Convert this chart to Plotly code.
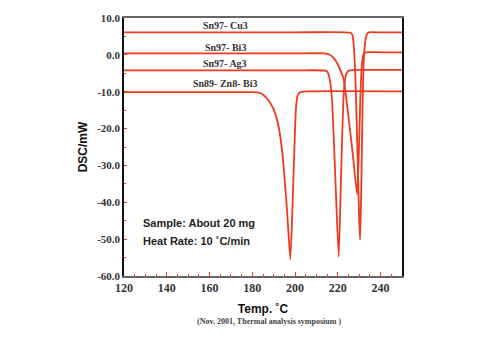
import plotly.graph_objects as go

# ---- data ----
cu3_t = [120, 200, 226.0, 226.8, 227.5, 228.3, 229.2, 230.0, 230.4, 230.9, 231.5, 232.1, 232.8, 233.6, 234.5, 240, 250]
cu3_v = [6.1, 6.1, 6.0, 5.4, 2.0, -8.0, -27.0, -45.0, -50.2, -38.0, -16.0, -2.0, 3.5, 5.6, 6.1, 6.1, 6.1]

bi3_t = [120, 200, 213.5, 216.0, 218.0, 219.8, 221.2, 222.7, 225.0, 227.0, 229.0, 229.8, 230.5, 231.2, 232.0, 233.0, 240, 250]
bi3_v = [0.4, 0.4, 0.4, 0.1, -0.8, -2.4, -4.2, -6.5, -17.0, -27.0, -37.8, -27.0, -12.0, -3.0, 0.2, 0.7, 0.7, 0.7]

ag3_t = [120, 200, 214.3, 215.3, 216.2, 217.3, 218.8, 220.4, 221.5, 222.6, 223.4, 224.2, 225.5, 240, 250]
ag3_v = [-4.2, -4.2, -4.3, -4.8, -6.5, -12.5, -33.0, -54.8, -33.0, -12.0, -6.5, -4.8, -4.2, -4.1, -4.1]

zn_t = [120, 180, 182.5, 185.0, 187.5, 190.0, 192.3, 194.3, 196.3, 197.8, 198.8, 199.7, 200.4, 201.2, 202.5, 205, 250]
zn_v = [-10.1, -10.1, -10.2, -10.8, -12.3, -14.8, -19.5, -28.0, -42.7, -55.5, -41.0, -25.0, -14.5, -11.0, -10.1, -9.9, -9.9]

series = [("Sn97- Cu3", cu3_t, cu3_v), ("Sn97- Bi3", bi3_t, bi3_v),
          ("Sn97- Ag3", ag3_t, ag3_v), ("Sn89- Zn8- Bi3", zn_t, zn_v)]

label_t = [167.5, 167.5, 167.0, 167.0]
label_v = [8.1, 2.1, -2.4, -7.9]

x_ticks = [120, 140, 160, 180, 200, 220, 240]
y_ticks = [10, 0, -10, -20, -30, -40, -50, -60]
y_tick_text = ["10.0", "0.0", "-10.0", "-20.0", "-30.0", "-40.0", "-50.0", "-60.0"]

red = "#ee3a1f"

fig = go.Figure()
for name, t, v in series:
    fig.add_trace(go.Scatter(x=t, y=v, mode="lines", name=name,
                             line=dict(color=red, width=1.8, shape="spline", smoothing=0.5),
                             hoverinfo="skip"))

for (name, _, _), lt, lv in zip(series, label_t, label_v):
    fig.add_annotation(x=lt, y=lv, text=name, showarrow=False,
                       font=dict(family="Liberation Serif", size=10, color="#333", weight="bold"))

fig.add_annotation(x=128, y=-45.5, xanchor="left", text="Sample: About 20 mg", showarrow=False,
                   font=dict(family="Liberation Sans", size=11, color="#222", weight="bold"))
fig.add_annotation(x=128, y=-50.5, xanchor="left", text="Heat Rate: 10 \u02daC/min", showarrow=False,
                   font=dict(family="Liberation Sans", size=11, color="#222", weight="bold"))

fig.add_annotation(xref="paper", yref="paper", x=0.52, y=-0.175, yanchor="middle",
                   text="(Nov. 2001, Thermal analysis symposium )", showarrow=False,
                   font=dict(family="Liberation Serif", size=8, color="#444", weight="bold"))

fig.update_layout(
    width=490, height=338,
    margin=dict(l=124, r=88, t=12, b=62),
    paper_bgcolor="white", plot_bgcolor="white",
    showlegend=False,
    xaxis=dict(range=[120, 250], tickvals=x_ticks, ticktext=[str(v) for v in x_ticks],
               showgrid=False, zeroline=False, showline=True, linecolor="#666", linewidth=2,
               mirror=True, ticks="inside", ticklen=4, tickcolor=red, tickwidth=1,
               minor=dict(dtick=5, ticks="inside", ticklen=2, tickcolor=red, tickwidth=1),
               tickfont=dict(family="Liberation Serif", size=12, color="#333", weight="bold"),
               title=dict(text="Temp. \u02daC", standoff=10,
                          font=dict(family="Liberation Sans", size=12, color="#111", weight="bold"))),
    yaxis=dict(range=[-60, 10], tickvals=y_ticks, ticktext=y_tick_text,
               showgrid=False, zeroline=False, showline=True, linecolor="#111", linewidth=1.5,
               mirror=True, ticks="inside", ticklen=3, tickcolor=red, tickwidth=1,
               minor=dict(dtick=5, ticks="inside", ticklen=2, tickcolor=red, tickwidth=1),
               tickfont=dict(family="Liberation Serif", size=11, color="#333", weight="bold"),
               title=dict(text="DSC/mW", standoff=7,
                          font=dict(family="Liberation Sans", size=12, color="#111", weight="bold"))),
)

fig.write_html("out.html")
